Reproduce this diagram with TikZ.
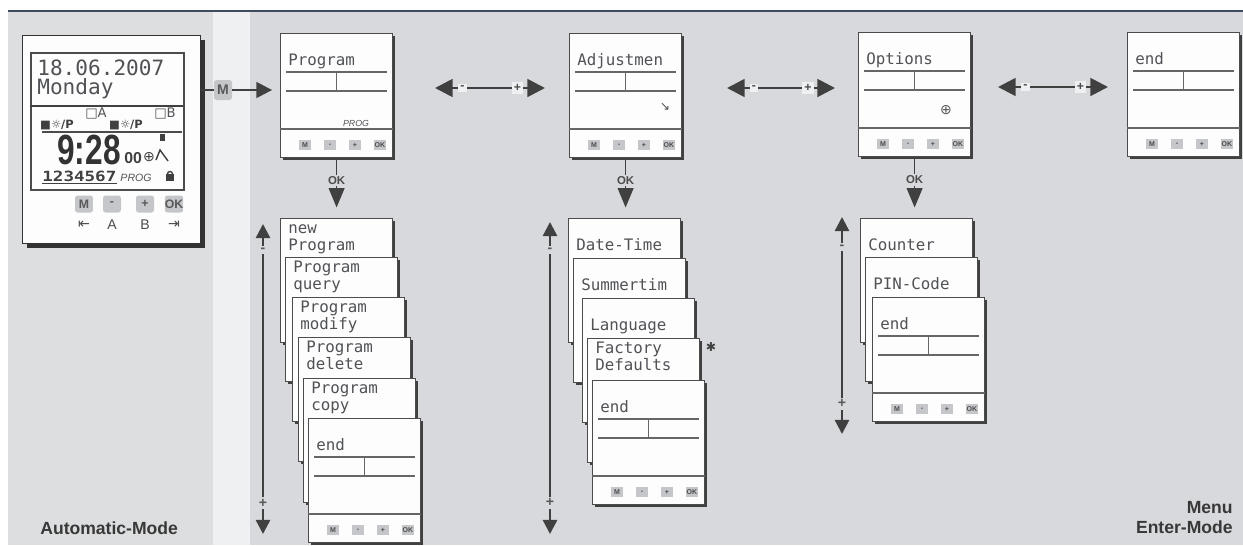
\documentclass[tikz,border=0pt]{standalone}
\usepackage{fontspec}
\usepackage{graphicx}
\setmainfont{Liberation Sans}
\setmonofont{DejaVu Sans Mono}
\newfontfamily\symfont{DejaVu Sans}
\usetikzlibrary{positioning,calc,arrows.meta,shadows}

\definecolor{panelgray}{HTML}{D8D9DC}
\definecolor{autogray}{HTML}{DDDEDF}
\definecolor{stripgray}{HTML}{EFF0F1}
\definecolor{lcdink}{HTML}{505256}
\definecolor{keygray}{HTML}{C4C6C9}
\definecolor{topblue}{HTML}{3E4C60}

\tikzset{
  screen/.style={draw=black!70, line width=0.7pt, fill=white!95!panelgray,
    minimum width=2.24cm, minimum height=2.48cm, inner sep=0pt, anchor=north west,
    drop shadow={shadow xshift=1.4pt, shadow yshift=-1.4pt, fill=black!75, opacity=1}},
  lcdtext/.style={font=\ttfamily\fontsize{9}{9}\selectfont, text=lcdink, inner sep=0pt, anchor=base west},
  lcdrule/.style={draw=black!60, line width=0.6pt},
  btn/.style={fill=keygray, minimum width=0.24cm, minimum height=0.2cm, inner sep=0pt,
    font=\bfseries\fontsize{4}{4}\selectfont, text=black!70},
  key/.style={fill=white!60!panelgray, inner sep=1.2pt, font=\bfseries\fontsize{7}{7}\selectfont, text=black!70},
  skey/.style={fill=panelgray, inner sep=1pt, font=\bfseries\fontsize{8}{8}\selectfont, text=black!65},
  okkey/.style={fill=panelgray, inner sep=1pt, font=\bfseries\fontsize{6.5}{6.5}\selectfont, text=black!70},
  dblarr/.style={{Triangle[length=10pt,width=10pt]}-{Triangle[length=10pt,width=10pt]}, line width=1.6pt, draw=black!75},
  scroll/.style={{Triangle[length=8pt,width=8pt]}-{Triangle[length=8pt,width=8pt]}, line width=1.4pt, draw=black!75},
  okarr/.style={-{Triangle[length=11pt,width=9pt]}, line width=0.7pt, draw=black!75, shorten >=6pt},
  devkey/.style={fill=keygray, rounded corners=1.5pt, minimum width=0.36cm, minimum height=0.34cm,
    inner sep=0pt, font=\bfseries\fontsize{7}{7}\selectfont, text=black!65},
  modelabel/.style={font=\bfseries\fontsize{10}{11.4}\selectfont, text=black!78, inner sep=0pt},
}

% one display card: name, x, y, first line, second line
\newcommand{\lcdcard}[5]{%
  \node[screen] (#1) at (#2,#3) {};
  \node[lcdtext] (#1-l1) at ($(#1.north west)+(8,15)$) {#4};
  \node[lcdtext] (#1-l2) at ($(#1.north west)+(8,32)$) {#5};
}
% rules and keys of a display
\newcommand{\lcdface}[1]{%
  \draw[lcdrule] ($(#1.north west)+(6,39)$) -- ($(#1.north east)+(-6,39)$);
  \draw[lcdrule] ($(#1.north west)+(6,58)$) -- ($(#1.north east)+(-6,58)$);
  \draw[lcdrule] ($(#1.north)+(0,39)$) -- ($(#1.north)+(0,58)$);
  \draw[lcdrule] ($(#1.north west)+(0,96)$) -- ($(#1.north east)+(0,96)$);
  \foreach \bl [count=\i] in {M,-,+,OK}
    \node[btn] (#1-b\i) at ($(#1.north west)+(25*\i,112)$) {\bl};
}

\begin{document}
\begin{tikzpicture}[x=0.02cm, y=-0.02cm]
\useasboundingbox (0,0) rectangle (1243,545);
% background
\fill[panelgray] (0,0) rectangle (1243,545);
\fill[white] (0,0) rectangle (1243,10);
\fill[white] (0,0) rectangle (8,545);
\fill[autogray] (8,12) rectangle (213,545);
\fill[stripgray] (213,12) rectangle (250,545);
\draw[topblue, line width=1.5pt] (8,11) -- (1243,11);

% automatic mode
\node[draw=black!80, line width=0.8pt, fill=white!95!panelgray, minimum width=3.56cm, minimum height=4.16cm,
  anchor=north west, drop shadow={shadow xshift=2.4pt, shadow yshift=-2.4pt, fill=black!80, opacity=1}] (dev) at (22,35) {};
\node[draw=black!70, line width=1pt, minimum width=3.06cm, minimum height=2.74cm, anchor=north west] (lcd) at (30,52) {};
\node[lcdtext, font=\ttfamily\fontsize{12}{12}\selectfont] (date) at (37,75) {18.06.2007};
\node[lcdtext, font=\ttfamily\fontsize{12}{12}\selectfont] (day) at (37,94) {Monday};
\draw[black!75, line width=1.4pt] (30,106) -- (183,106);
\node[font=\symfont\fontsize{7.5}{7.5}\selectfont, text=lcdink, inner sep=0pt] (chA) at (96,114) {□A};
\node[font=\symfont\fontsize{7.5}{7.5}\selectfont, text=lcdink, inner sep=0pt] (chB) at (165,114) {□B};
\node[font=\symfont\bfseries\fontsize{6.5}{6.5}\selectfont, text=black!75, inner sep=0pt] (swA) at (57,125) {■☼/P};
\node[font=\symfont\bfseries\fontsize{6.5}{6.5}\selectfont, text=black!75, inner sep=0pt] (swB) at (126,125) {■☼/P};
\draw[black!70, line width=1pt] (42,132) -- (182,132);
\node[font=\bfseries\fontsize{24}{24}\selectfont, text=black!80, inner sep=0pt, anchor=base west] (clock) at (57,164) {\scalebox{0.75}[1]{9:28}};
\node[font=\bfseries\fontsize{9}{9}\selectfont, text=black!75, inner sep=0pt, anchor=base west] (secs) at (124,163) {00};
\node[font=\symfont\fontsize{8}{8}\selectfont, text=black!75, inner sep=0pt] (sun) at (149,157) {⊕};
\fill[black!75] (160,134) rectangle (165,141);
\draw[black!75, line width=0.8pt] (156,160) -- (160,150) -- (168,161);
\node[font=\ttfamily\bfseries\fontsize{8}{8}\selectfont, text=black!75, inner sep=0pt, anchor=base west] (days) at (42,181) {\scalebox{1.25}[1]{1234567}};
\draw[black!75, line width=0.8pt] ($(days.south west)+(0,2)$) -- ($(days.south east)+(0,2)$);
\node[font=\itshape\fontsize{6}{6}\selectfont, text=lcdink, inner sep=0pt] (progflag) at (136,178) {PROG};
\fill[black!75] (166,174) rectangle (174,181);
\draw[black!75, line width=0.8pt] (167.5,174) arc(180:360:2.5);
\foreach \kname/\kx/\klab in {M/84/{\symfont ⇤}, -/112/A, +/145/B, OK/174/{\symfont ⇥}} {
  \node[devkey] (dk\kx) at (\kx,204) {\kname};
  \node[font=\fontsize{8}{8}\selectfont, text=black!70, inner sep=0pt] (dl\kx) at (\kx,225) {\klab};
}
\node[modelabel, anchor=base west] (automode) at (40,534) {Automatic-Mode};

% menu screens
\lcdcard{prog}{280}{33}{}{Program}
\lcdface{prog}
\lcdcard{adj}{569}{33}{}{Adjustmen}
\lcdface{adj}
\lcdcard{opt}{858}{32}{}{Options}
\lcdface{opt}
\lcdcard{mend}{1127}{32}{}{end}
\lcdface{mend}
\node[font=\itshape\fontsize{5}{5}\selectfont, text=lcdink, inner sep=0pt] (prog-flag) at (356,123) {PROG};
\node[font=\symfont\fontsize{7}{7}\selectfont, text=lcdink, inner sep=0pt] (adj-sym) at (665,107) {↘};
\node[font=\symfont\fontsize{8}{8}\selectfont, text=black!65, inner sep=0pt] (opt-sym) at (946,110) {⊕};

\node[devkey, minimum height=0.4cm, font=\bfseries\fontsize{8}{8}\selectfont] (mkey) at (223,90) {M};
\draw[black!75, line width=1pt] (dev.east |- mkey) -- (mkey);
\draw[black!75, line width=1.4pt, -{Triangle[length=9pt,width=9pt]}, shorten >=4.5pt] (mkey) -- (prog.west |- mkey);

\coordinate (pa-l) at (435,88);
\coordinate (pa-r) at (545,88);
\coordinate (ao-l) at (727,88);
\coordinate (ao-r) at (835,88);
\coordinate (oe-l) at (998,87);
\coordinate (oe-r) at (1108,87);
\foreach \a in {pa,ao,oe}
  \draw[dblarr] (\a-l) -- node[pos=.25, key] (\a-m) {-} node[pos=.75, key] (\a-p) {+} (\a-r);

% program list
\lcdcard{pnew}{280}{218}{new}{Program}
\lcdcard{pqry}{285}{257}{Program}{query}
\lcdcard{pmod}{292}{297}{Program}{modify}
\lcdcard{pdel}{298}{337}{Program}{delete}
\lcdcard{pcpy}{303}{378}{Program}{copy}
\lcdcard{pend}{308}{418}{}{end}
\lcdface{pend}

% adjustment list
\lcdcard{adt}{568}{218}{}{Date-Time}
\lcdcard{asum}{573}{258}{}{Summertim}
\lcdcard{alng}{582}{298}{}{Language}
\lcdcard{afac}{587}{338}{Factory}{Defaults}
\node[font=\symfont\bfseries\fontsize{7}{7}\selectfont, text=black!75, inner sep=0pt] (afac-star) at (711,347) {✱};
\lcdcard{aend}{592}{380}{}{end}
\lcdface{aend}

% options list
\lcdcard{ocnt}{860}{218}{}{Counter}
\lcdcard{opin}{865}{257}{}{PIN-Code}
\lcdcard{oend}{872}{297}{}{end}
\lcdface{oend}

\draw[okarr] (prog.south) -- node[pos=.37, okkey] (prog-ok) {OK} (prog.south |- pnew.north);
\draw[okarr] (adj.south) -- node[pos=.37, okkey] (adj-ok) {OK} (adj.south |- adt.north);
\draw[okarr] (opt.south) -- node[pos=.37, okkey] (opt-ok) {OK} (opt.south |- ocnt.north);

\coordinate (ps-t) at (263,224);
\coordinate (ps-b) at (263,534);
\coordinate (as-t) at (550,222);
\coordinate (as-b) at (550,534);
\coordinate (os-t) at (842,217);
\coordinate (os-b) at (842,434);
\draw[scroll] (ps-t) -- node[pos=.085, skey] (ps-m) {-} node[pos=.9, skey] (ps-p) {+} (ps-b);
\draw[scroll] (as-t) -- node[pos=.09, skey] (as-m) {-} node[pos=.9, skey] (as-p) {+} (as-b);
\draw[scroll] (os-t) -- node[pos=.14, skey] (os-m) {-} node[pos=.86, skey] (os-p) {+} (os-b);

\node[modelabel, anchor=south east, align=right] (entermode) at (1233,534) {Menu\\Enter-Mode};
\end{tikzpicture}
\end{document}
